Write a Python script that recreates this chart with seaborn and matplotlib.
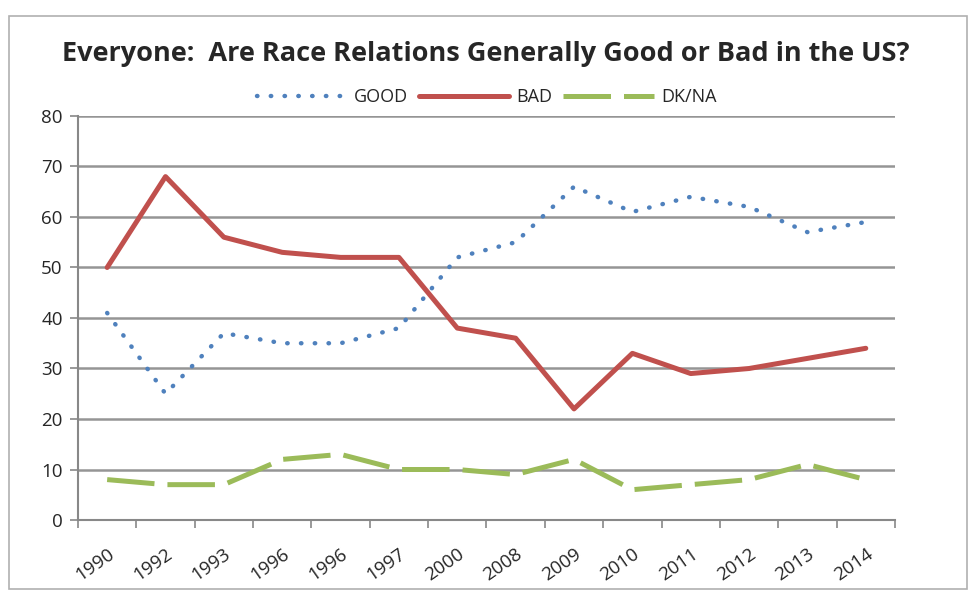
import pandas as pd
import seaborn as sns
import matplotlib.pyplot as plt
from matplotlib.patches import Rectangle

# Data
years = ['1990', '1992', '1993', '1996', '1996', '1997', '2000', '2008',
         '2009', '2010', '2011', '2012', '2013', '2014']
good = [41, 25, 37, 35, 35, 38, 52, 55, 66, 61, 64, 62, 57, 59]
bad = [50, 68, 56, 53, 52, 52, 38, 36, 22, 33, 29, 30, 32, 34]
dkna = [8, 7, 7, 12, 13, 10, 10, 9, 12, 6, 7, 8, 11, 8]

pos = list(range(len(years)))
df = pd.DataFrame({'pos': pos * 3,
                   'value': good + bad + dkna,
                   'series': ['GOOD'] * len(pos) + ['BAD'] * len(pos) + ['DK/NA'] * len(pos)})

sns.set_style('white')
plt.rcParams['font.family'] = ['Open Sans', 'DejaVu Sans']

fig = plt.figure(figsize=(9.71, 5.93), dpi=100)
ax = fig.add_axes([0.0803, 0.1231, 0.8414, 0.6813])

styles = {
    'GOOD': dict(color='#4F81BD', lw=3.2, linestyle=(0, (0.1, 3.0)), dash_capstyle='round'),
    'BAD': dict(color='#C0504D', lw=3.6, linestyle='-'),
    'DK/NA': dict(color='#9BBB59', lw=3.6, linestyle=(0, (9.5, 2.6))),
}
for name in ['GOOD', 'BAD', 'DK/NA']:
    sub = df[df['series'] == name]
    sns.lineplot(data=sub, x='pos', y='value', ax=ax, label=name, errorbar=None, **styles[name])

ax.set_xlim(-0.5, len(years) - 0.5)
ax.set_ylim(0, 80)
ax.set_yticks(range(0, 81, 10))
ax.set_xticks(pos)
ax.set_xticklabels(years, rotation=35, ha='right', rotation_mode='anchor', fontsize=13.5)
ax.tick_params(axis='y', labelsize=13.5, length=6, color='#888888', width=1.2, pad=5, left=True)
ax.tick_params(axis='x', length=0, pad=18)
# boundary ticks on the category axis
ax.set_xticks([p - 0.5 for p in range(len(years) + 1)], minor=True)
ax.tick_params(axis='x', which='minor', length=6, color='#888888', width=1.2, bottom=True)
ax.set_xlabel('')
ax.set_ylabel('')
ax.grid(axis='y', color='#959595', lw=1.8)
ax.set_axisbelow(True)
for s in ['top', 'right']:
    ax.spines[s].set_visible(False)
for s in ['left', 'bottom']:
    ax.spines[s].set_color('#888888')
    ax.spines[s].set_linewidth(1.5)

fig.text(0.5, 0.909, 'Everyone:  Are Race Relations Generally Good or Bad in the US?',
         ha='center', va='center', fontsize=19.5, fontweight='bold')
ax.legend(loc='center', bbox_to_anchor=(0.5, 1.047), ncol=3, frameon=False,
          fontsize=13, handlelength=5, columnspacing=0.6, handletextpad=0.4)

fig.add_artist(Rectangle((0.009, 0.006), 0.987, 0.967, transform=fig.transFigure,
                         fill=False, edgecolor='#b0b0b0', lw=1.2))

fig.savefig('out.png', dpi=100)
